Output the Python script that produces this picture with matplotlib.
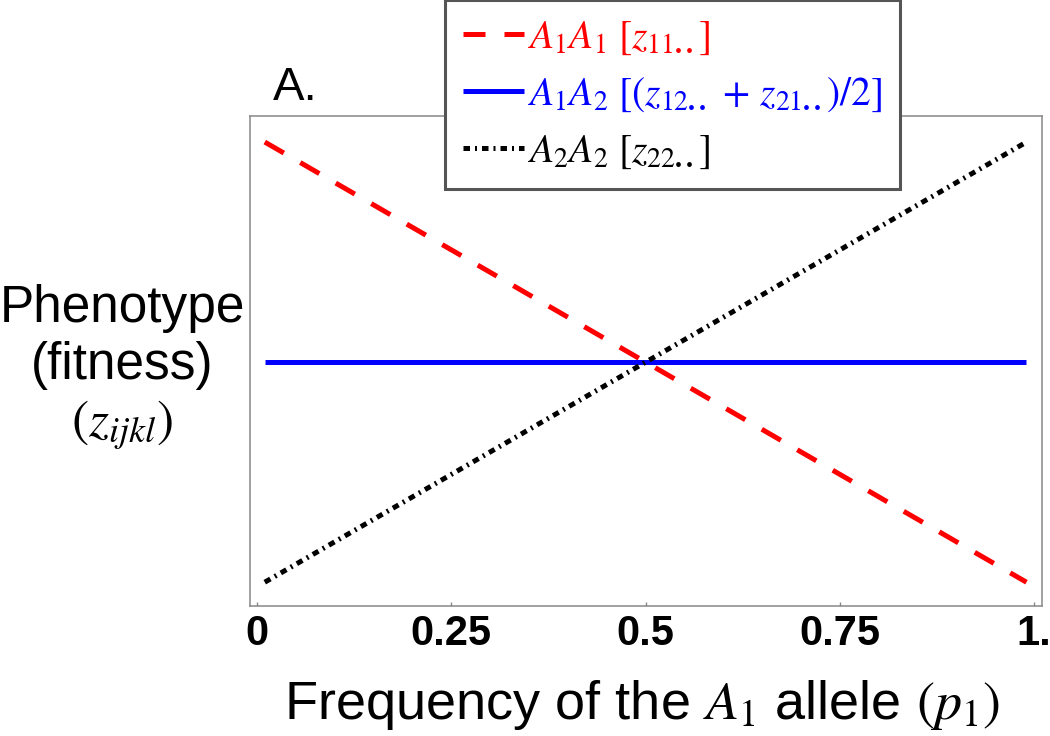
import matplotlib
matplotlib.use("Agg")
import matplotlib.pyplot as plt

# data (phenotype in arbitrary units, no y ticks)
p1 = [0.01, 0.25, 0.5, 0.75, 0.99]
z11 = [0.99, 0.75, 0.5, 0.25, 0.01]
z12_21 = [0.5, 0.5, 0.5, 0.5, 0.5]
z22 = [0.01, 0.25, 0.5, 0.75, 0.99]

x_ticks = [0, 0.25, 0.5, 0.75, 1.0]
x_tick_labels = ["0", "0.25", "0.5", "0.75", "1."]

series_labels = [
    r"$A_1A_1\ [z_{11\mathbf{..}}]$",
    r"$A_1A_2\ [(z_{12\mathbf{..}}\,+\,z_{21\mathbf{..}})/2]$",
    r"$A_2A_2\ [z_{22\mathbf{..}}]$",
]

plt.rcParams["font.family"] = ["Liberation Sans", "DejaVu Sans"]
plt.rcParams["mathtext.fontset"] = "stix"

fig = plt.figure(figsize=(10.5, 7.36), dpi=100)
ax = fig.add_axes([0.2381, 0.1766, 0.7543, 0.6658])

lw = 3.6
l1, = ax.plot(p1, z11, color="#ff0000", lw=lw, linestyle=(0, (4.4, 3.8)))
l2, = ax.plot(p1, z12_21, color="#0000ff", lw=lw, solid_capstyle="butt")
l3, = ax.plot(p1, z22, color="black", lw=lw, linestyle=(0, (1.3, 1.0, 0.4, 1.0)))

ax.set_xlim(-0.009, 1.010)
ax.set_ylim(-0.043, 1.048)
ax.set_yticks([])
ax.set_xticks(x_ticks)
ax.set_xticklabels(x_tick_labels, fontsize=30, fontweight="bold")
ax.tick_params(axis="x", direction="in", length=3, width=1, color="#888888",
               pad=6, top=False)
for s in ax.spines.values():
    s.set_color("#888888")
    s.set_linewidth(1.1)

fig.text(0.6114, 1 - 705 / 736, r"Frequency of the $A_1$ allele $(p_1)$",
         fontsize=39, ha="center", va="center")
fig.text(122 / 1050, 1 - 368 / 736, "Phenotype\n(fitness)\n$(z_{ijkl})$",
         fontsize=37, ha="center", va="center", multialignment="center",
         linespacing=1.22)
fig.text(273 / 1050, 1 - 100 / 736, "A.", fontsize=34, ha="left", va="baseline")

leg = fig.legend([l1, l2, l3], series_labels, loc="upper left",
                 bbox_to_anchor=(445 / 1050, 1.0), fontsize=28.5,
                 frameon=True, fancybox=False, handlelength=1.55,
                 handletextpad=0.08, labelspacing=0.45, borderpad=0.45,
                 borderaxespad=0)
leg.get_frame().set_edgecolor("#555555")
leg.get_frame().set_linewidth(2.2)
leg.get_frame().set_alpha(1)
for txt, col in zip(leg.get_texts(), ["#ff0000", "#0000ff", "black"]):
    txt.set_color(col)

fig.savefig("out.png", dpi=100)
